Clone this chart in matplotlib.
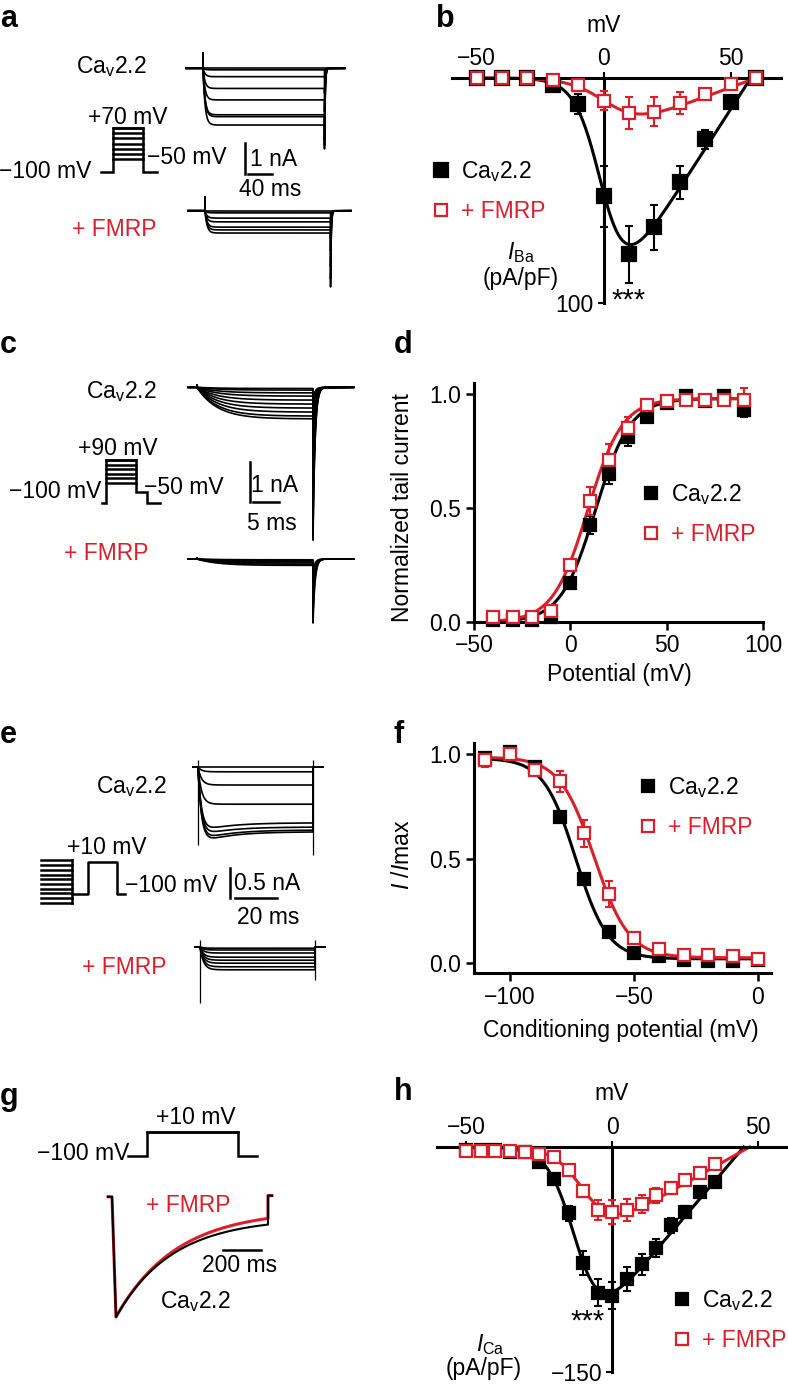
import numpy as np
import matplotlib.pyplot as plt

plt.rcParams['font.family'] = ['Liberation Sans', 'DejaVu Sans']
plt.rcParams['mathtext.fontset'] = 'custom'
plt.rcParams['mathtext.rm'] = 'Liberation Sans'
plt.rcParams['mathtext.it'] = 'Liberation Sans:italic'
plt.rcParams['mathtext.bf'] = 'Liberation Sans:bold'
plt.rcParams['font.size'] = 16.5
plt.rcParams['axes.linewidth'] = 2.0

RED = '#d9202a'
CAV = r'Ca$_\mathregular{v}$2.2'
FS = 16.5

# ---- b: Ba2+ current-voltage relation (pA/pF)
iv_b_mv = [-50, -40, -30, -20, -10, 0, 10, 20, 30, 40, 50, 60]
iv_b_cav = [0, 0, 0, -3.2, -11.7, -52.6, -78.4, -66.4, -46.4, -27.3, -10.8, 0]
iv_b_cav_err = [0.5, 0.5, 0.5, 1.0, 4.4, 13.5, 12.6, 10.0, 7.5, 4.4, 2.0, 0.5]
iv_b_fmrp = [0, 0, 0, -1.0, -3.0, -10.0, -15.5, -15.0, -11.0, -7.0, -2.5, 0]
iv_b_fmrp_err = [0.5, 0.5, 0.5, 1.0, 1.5, 4.4, 7.2, 6.5, 5.0, 2.0, 2.0, 0.5]
fit_b_cav = (1.75, 0.0, 5.0, 58.0)     # gmax, V50, k, Erev
fit_b_fmrp = (0.42, 3.0, 7.0, 60.0)

# ---- d: activation (normalized tail current)
act_mv = [-40, -30, -20, -10, 0, 10, 20, 30, 40, 50, 60, 70, 80, 90]
act_cav = [0.01, 0.01, 0.01, 0.02, 0.17, 0.425, 0.65, 0.81, 0.90, 0.96, 0.99, 0.97, 0.99, 0.93]
act_cav_err = [0.01, 0.01, 0.01, 0.02, 0.02, 0.04, 0.045, 0.04, 0.02, 0.01, 0.01, 0.02, 0.02, 0.03]
act_fmrp = [0.02, 0.02, 0.02, 0.05, 0.25, 0.53, 0.71, 0.85, 0.95, 0.97, 0.975, 0.975, 0.975, 0.975]
act_fmrp_err = [0.01, 0.01, 0.01, 0.02, 0.02, 0.06, 0.07, 0.05, 0.02, 0.01, 0.02, 0.01, 0.02, 0.05]
fit_d_cav = (0.98, 13.0, 9.0)          # max, V50, k
fit_d_fmrp = (0.98, 9.0, 9.0)

# ---- f: steady-state inactivation (I/Imax)
inact_mv = [-110, -100, -90, -80, -70, -60, -50, -40, -30, -20, -10, 0]
inact_cav = [0.98, 1.01, 0.94, 0.70, 0.40, 0.147, 0.05, 0.035, 0.013, 0.008, 0.008, 0.016]
inact_cav_err = [0.02, 0.03, 0.02, 0.02, 0.02, 0.02, 0.01, 0.01, 0.01, 0.01, 0.01, 0.01]
inact_fmrp = [0.97, 1.0, 0.925, 0.87, 0.62, 0.33, 0.12, 0.067, 0.04, 0.04, 0.035, 0.02]
inact_fmrp_err = [0.03, 0.03, 0.02, 0.05, 0.065, 0.06, 0.02, 0.01, 0.01, 0.01, 0.01, 0.01]
fit_f_cav = (0.96, -73.5, 6.5, 0.02)   # amplitude, V50, k, offset
fit_f_fmrp = (0.96, -66.0, 7.0, 0.025)

# ---- h: Ca2+ current-voltage relation (pA/pF)
iv_h_mv = [-50, -45, -40, -35, -30, -25, -20, -15, -10, -5, 0, 5, 10, 15, 20, 25, 30, 35]
iv_h_cav = [-2, -2, -2, -3, -3, -10, -21, -44, -77, -97, -99, -88, -78, -67, -52, -43, -30, -23]
iv_h_cav_err = [1, 1, 1, 1, 1, 2, 3, 5, 8, 9, 9, 8, 7, 6, 5, 4, 3, 2]
iv_h_fmrp = [-2.7, -2.7, -2.7, -2.7, -3.3, -4.4, -6.7, -15.6, -29, -42, -43, -42, -38, -32, -27, -22, -17, -11]
iv_h_fmrp_err = [1, 1, 1, 1, 1, 1, 2, 3, 4, 6.7, 8, 7.5, 6, 5, 4, 3, 2, 2]
fit_h_cav = (2.3, -12.0, 4.5, 45.0)
fit_h_fmrp = (1.1, -9.0, 5.0, 47.0)

# ---- example current traces: steady amplitudes (nA) and tail peaks (nA)
a_cav_lvl = [0, -0.05, -0.27, -0.65, -1.02, -1.5, -1.56, -1.83]
a_cav_tail = [0, -0.3, -0.8, -1.4, -1.9, -2.3, -2.5, -2.6]
a_fmrp_lvl = [0, -0.07, -0.24, -0.36, -0.53, -0.62, -0.72]
a_fmrp_tail = [0, -0.4, -0.9, -1.3, -1.8, -2.2, -2.46]
c_cav_lvl = [-0.03, -0.07, -0.14, -0.22, -0.32, -0.42, -0.52, -0.62, -0.72, -0.79]
c_cav_tail = [-0.3, -0.6, -1.0, -1.5, -2.0, -2.5, -2.9, -3.3, -3.6, -3.82]
c_fmrp_lvl = [-0.02, -0.04, -0.07, -0.10, -0.13, -0.16]
c_fmrp_tail = [-0.3, -0.6, -0.9, -1.2, -1.4, -1.6]
e_cav_lvl = [0, -0.08, -0.30, -0.62, -0.93, -1.0, -1.05, -1.08]
e_cav_sag = [0, 0, 0, 0, -0.15, -0.15, -0.18, -0.2]
e_fmrp_lvl = [-0.02, -0.05, -0.10, -0.17, -0.22, -0.27, -0.33, -0.38]
e_cav_cap = (0.12, -1.3, -1.47)        # transient: top, on, off (nA)
e_fmrp_cap = (0.12, -0.93, -0.55)
g_cav = (0.168, 0.832, 295.0)           # plateau, decaying fraction, tau (ms)
g_fmrp = (0.10, 0.90, 316.0)

W, H = 788, 1386
fig = plt.figure(figsize=(W / 100, H / 100), dpi=100)


def px_axes(x0, y0, x1, y1):
    return fig.add_axes([x0 / W, 1 - y1 / H, (x1 - x0) / W, (y1 - y0) / H])


def txt(x, y, s, **kw):
    kw.setdefault('ha', 'center')
    kw.setdefault('va', 'center')
    kw.setdefault('fontsize', FS)
    fig.text(x / W, 1 - y / H, s, **kw)


def letter(x, y, s):
    fig.text(x / W, 1 - y / H, s, fontsize=22, fontweight='bold', va='baseline')


def scaled_axes(box, x_ref, v_ref, px_x, y_ref, w_ref, px_y):
    # box in pixels; (x_ref px <-> v_ref), (y_ref px <-> w_ref), scales in px per unit
    x0, y0, x1, y1 = box
    ax = px_axes(*box)
    ax.set_xlim(v_ref + (x0 - x_ref) / px_x, v_ref + (x1 - x_ref) / px_x)
    ax.set_ylim(w_ref + (y_ref - y1) / px_y, w_ref + (y_ref - y0) / px_y)
    return ax


def ghk(v, g, v50, k, erev):
    return g * (v - erev) / (1 + np.exp(-(v - v50) / k))


def step_trace(lvl, tail, t_step, t_pre, t_post, tau, tau_tail, blip, sag=0.0):
    t_on = np.linspace(0, t_step, 400)
    i_on = lvl * (1 - np.exp(-t_on / tau)) + sag * np.exp(-t_on / (8 * tau)) * (1 - np.exp(-t_on / tau))
    t_off = t_step + np.linspace(0, 6 * tau_tail, 60)
    i_off = tail * np.exp(-(t_off - t_step) / tau_tail)
    t = np.concatenate([[t_pre, 0, 0], t_on, [t_step], t_off, [t_post]])
    i = np.concatenate([[0, 0, blip], i_on, [tail], i_off, [0]])
    return t, i


def draw_traces(ax, lvls, tails, t_step, t_pre, t_post, tau, tau_tail, blip, sags=None):
    for n, (lv, tl) in enumerate(zip(lvls, tails)):
        sg = 0.0 if sags is None else sags[n]
        t, i = step_trace(lv, tl, t_step, t_pre, t_post, tau, tau_tail, blip, sg)
        ax.plot(t, i, color='black', lw=1.2)
    ax.axis('off')


def scale_bar(ax, x, y, dx, dy):
    ax.plot([x, x], [y, y + dy], color='black', lw=1.8, clip_on=False)
    ax.plot([x + 0.1 * dx, x + dx], [y + dy, y + dy], color='black', lw=1.8, clip_on=False)


def protocol(ax, hold, levels, pre, step, post, tail_v=None, tail_t=0):
    top = max(levels)
    for lv in levels:
        ax.plot([0, step], [lv, lv], color='black', lw=1.8)
    ts = [-pre, 0, 0, step, step]
    vs = [hold, hold, top, top, hold if tail_v is None else tail_v]
    if tail_v is not None:
        ts += [step + tail_t, step + tail_t]
        vs += [tail_v, hold]
    ts.append(ts[-1] + post)
    vs.append(hold)
    ax.plot(ts, vs, color='black', lw=1.8, solid_joinstyle='miter')
    ax.axis('off')


def style_iv(ax, xticks, ytick, ylab):
    for s in ['bottom', 'right']:
        ax.spines[s].set_visible(False)
    ax.spines['left'].set_position(('data', 0))
    ax.spines['top'].set_linewidth(2.2)
    ax.spines['left'].set_linewidth(2.2)
    ax.xaxis.set_ticks_position('top')
    ax.set_xticks(xticks)
    ax.set_yticks([ytick])
    ax.set_yticklabels([ylab])
    ax.tick_params(axis='x', length=4, width=1.5, pad=2, labelsize=FS)
    ax.tick_params(axis='y', length=4, width=1.5, pad=3, labelsize=FS)


def style_box(ax, xticks, yticks):
    for s in ['top', 'right']:
        ax.spines[s].set_visible(False)
    ax.spines['left'].set_linewidth(2.2)
    ax.spines['bottom'].set_linewidth(2.2)
    ax.set_xticks(xticks)
    ax.set_yticks(yticks)
    ax.set_yticklabels(['%.1f' % v for v in yticks])
    ax.tick_params(length=6, width=1.8, pad=3, labelsize=FS)


def points(ax, x, y, err, ms, filled, color):
    ax.errorbar(x, y, yerr=err, fmt='none', ecolor=color, elinewidth=1.5,
                capsize=3, capthick=1.5, clip_on=False, zorder=3)
    ax.plot(x, y, 's', ms=ms, mfc=color if filled else 'white', mec=color,
            mew=1.6, ls='none', clip_on=False, zorder=4,
            label=CAV if filled else '+ FMRP')


def legend(ax, x, y, spacing):
    lg = ax.legend(loc='upper left', bbox_to_anchor=(x / W, 1 - y / H),
                   bbox_transform=fig.transFigure, frameon=False, borderpad=0,
                   handlelength=0.8, handletextpad=0.45, labelspacing=spacing,
                   fontsize=FS, borderaxespad=0)
    lg.get_texts()[1].set_color(RED)


# ================= panel a
letter(0, 27, 'a')
ax = scaled_axes((180, 45, 350, 160), 203, 0, 0.675, 68.3, 0, 31)
draw_traces(ax, a_cav_lvl, a_cav_tail, 180, -25, 210, 3.0, 1.0, 0.5)
scale_bar(ax, 62, -2.41, 40, -1.0)
ax = scaled_axes((180, 190, 355, 295), 205, 0, 0.675, 210.7, 0, 31)
draw_traces(ax, a_fmrp_lvl, a_fmrp_tail, 186, -25, 216, 3.0, 1.0, 0.44)
ax = scaled_axes((95, 115, 165, 180), 113, 0, 0.6, 172, -100, 0.259)
protocol(ax, -100, [-50, -30, -10, 10, 30, 50, 70], 20, 50, 23)
txt(111, 67, CAV)
txt(128, 117, '+70 mV')
txt(147, 157, '\u221250 mV', ha='left')
txt(91, 171, '\u2212100 mV', ha='right')
txt(250, 160, '1 nA', ha='left')
txt(270, 190, '40 ms')
txt(114, 229, '+ FMRP', color=RED)

# ================= panel b
letter(436, 27, 'b')
ax = scaled_axes((452, 78, 781, 303), 603.5, 0, 2.54, 78, 0, 2.25)
ax.set_ylim(-100, 0)
style_iv(ax, [-50, 0, 50], -100, '100')
vb = np.linspace(-50, fit_b_cav[3], 300)
ax.plot(vb, ghk(vb, *fit_b_cav), color='black', lw=2.2, zorder=2, clip_on=False)
vb = np.linspace(-50, fit_b_fmrp[3], 300)
ax.plot(vb, ghk(vb, *fit_b_fmrp), color=RED, lw=2.2, zorder=2, clip_on=False)
points(ax, iv_b_mv, iv_b_cav, iv_b_cav_err, 9.5, True, 'black')
points(ax, iv_b_mv, iv_b_fmrp, iv_b_fmrp_err, 9, False, RED)
legend(ax, 432, 159, 0.7)
txt(604, 25, 'mV')
txt(521, 253, r'$I_\mathregular{Ba}$')
txt(521, 278, '(pA/pF)')
txt(629, 301, '***', fontsize=21)

# ================= panel c
letter(0, 353, 'c')
ax = scaled_axes((180, 370, 360, 545), 197, 0, 5.8, 387.3, 0, 40)
draw_traces(ax, c_cav_lvl, c_cav_tail, 20, -1.5, 27, 3.5, 0.35, 0.05)
scale_bar(ax, 9.1, -1.87, 5, -1.0)
ax = scaled_axes((180, 545, 360, 630), 197, 0, 5.8, 559, 0, 40)
draw_traces(ax, c_fmrp_lvl, c_fmrp_tail, 20, -1.5, 27, 3.5, 0.35, 0.03)
ax = scaled_axes((95, 450, 165, 510), 106, 0, 1.5, 503, -100, 0.226)
protocol(ax, -100, [-10, 10, 30, 50, 70, 90], 2.7, 20, 8.7, tail_v=-50, tail_t=7.3)
txt(121, 392, CAV)
txt(118, 448, '+90 mV')
txt(144, 487, '\u221250 mV', ha='left')
txt(101, 492, '\u2212100 mV', ha='right')
txt(251, 486, '1 nA', ha='left')
txt(272, 523, '5 ms')
txt(106, 553, '+ FMRP', color=RED)

# ================= panel d
letter(394, 353, 'd')
ax = scaled_axes((474, 383, 763, 622), 474, -50, 1.927, 622, 0, 228)
style_box(ax, [-50, 0, 50, 100], [0.0, 0.5, 1.0])
vd = np.linspace(-40, 90, 300)
ax.plot(vd, fit_d_cav[0] / (1 + np.exp(-(vd - fit_d_cav[1]) / fit_d_cav[2])), color='black', lw=2.2, zorder=2)
ax.plot(vd, fit_d_fmrp[0] / (1 + np.exp(-(vd - fit_d_fmrp[1]) / fit_d_fmrp[2])), color=RED, lw=2.2, zorder=2)
points(ax, act_mv, act_cav, act_cav_err, 8, True, 'black')
points(ax, act_mv, act_fmrp, act_fmrp_err, 8, False, RED)
legend(ax, 642, 482, 0.7)
txt(403, 508, 'Normalized tail current', rotation=90)
txt(619, 675, 'Potential (mV)')

# ================= panel e
letter(0, 743, 'e')
ax = scaled_axes((188, 750, 330, 860), 198, 0, 2.35, 767, 0, 60)
draw_traces(ax, e_cav_lvl, [0] * len(e_cav_lvl), 49, -2.1, 53.2, 1.5, 0.3, 0.0, e_cav_sag)
ax.vlines([0], e_cav_cap[1], e_cav_cap[0], color='black', lw=0.9)
ax.vlines([49], e_cav_cap[2], e_cav_cap[0], color='black', lw=0.9)
scale_bar(ax, 13.6, -1.68, 20, -0.5)
ax = scaled_axes((188, 930, 330, 1010), 200, 0, 2.35, 947, 0, 60)
draw_traces(ax, e_fmrp_lvl, [0] * len(e_fmrp_lvl), 49, -2.1, 53.2, 1.5, 0.3, 0.0)
ax.vlines([0], e_fmrp_cap[1], e_fmrp_cap[0], color='black', lw=0.9)
ax.vlines([49], e_fmrp_cap[2], e_fmrp_cap[0], color='black', lw=0.9)
ax = scaled_axes((35, 850, 135, 910), 88, 0, 0.58, 894, -100, 0.291)
cond = [-131, -115, -98, -82, -65, -49, -33, -16, 0, 17]
for lv in cond:
    ax.plot([-80.6, -27.6], [lv, lv], color='black', lw=1.8)
ax.plot([-27.6, -27.6, 0, 0, 50, 50, 64], [max(cond), -100, -100, 10, 10, -100, -100],
        color='black', lw=1.8)
ax.plot([-27.6, -27.6], [min(cond), -100], color='black', lw=1.8)
ax.axis('off')
txt(131, 787, CAV)
txt(107, 848, '+10 mV')
txt(125, 885, '\u2212100 mV', ha='left')
txt(234, 884, '0.5 nA', ha='left')
txt(268, 917, '20 ms')
txt(124, 968, '+ FMRP', color=RED)

# ================= panel f
letter(394, 743, 'f')
ax = scaled_axes((474, 743, 771, 973), 758, 0, 2.48, 963, 0, 209)
style_box(ax, [-100, -50, 0], [0.0, 0.5, 1.0])
vf = np.linspace(-110, 0, 300)
for fit, col in [(fit_f_cav, 'black'), (fit_f_fmrp, RED)]:
    ax.plot(vf, fit[0] / (1 + np.exp((vf - fit[1]) / fit[2])) + fit[3], color=col, lw=2.2, zorder=2)
points(ax, inact_mv, inact_cav, inact_cav_err, 8, True, 'black')
points(ax, inact_mv, inact_fmrp, inact_fmrp_err, 8, False, RED)
legend(ax, 639, 775, 0.7)
txt(403, 855, r'$I$ /$I$max', rotation=90)
txt(621, 1031, 'Conditioning potential (mV)')

# ================= panel g
letter(0, 1105, 'g')
ax = scaled_axes((100, 1185, 280, 1325), 112, 0, 0.19, 1198, 0, 119)
for (c0, a0, tau), col, lw in [(g_fmrp, RED, 2.2), (g_cav, 'black', 1.5)]:
    tg = np.linspace(21, 821, 500)
    ig = -(c0 + a0 * np.exp(-(tg - 21) / tau))
    ax.plot(np.concatenate([[-21, 0], tg, [821, 842]]),
            np.concatenate([[0.01, 0.01], ig, [0.02, 0.02]]), color=col, lw=lw)
ax.plot([584, 784], [-0.437, -0.437], color='black', lw=1.8, clip_on=False)
ax.axis('off')
ax = scaled_axes((120, 1120, 265, 1165), 147, 0, 0.114, 1156, -100, 0.218)
protocol(ax, -100, [10], 167, 800, 167)
txt(196, 1118, '+10 mV')
txt(129, 1154, '\u2212100 mV', ha='right')
txt(240, 1265, '200 ms')
txt(188, 1205, '+ FMRP', color=RED)
txt(195, 1302, CAV)

# ================= panel h
letter(394, 1100, 'h')
ax = scaled_axes((437, 1147, 788, 1372), 612.3, 0, 2.92, 1147, 0, 1.5)
ax.set_ylim(-150, 0)
style_iv(ax, [-50, 0, 50], -150, '\u2212150')
for fit, col in [(fit_h_cav, 'black'), (fit_h_fmrp, RED)]:
    vh = np.linspace(-50, fit[3], 300)
    ax.plot(vh, ghk(vh, *fit), color=col, lw=2.2, zorder=2, clip_on=False)
points(ax, iv_h_mv, iv_h_cav, iv_h_cav_err, 8.5, True, 'black')
points(ax, iv_h_mv, iv_h_fmrp, iv_h_fmrp_err, 8, False, RED)
legend(ax, 673, 1288, 0.7)
txt(612, 1093, 'mV')
txt(490, 1345, r'$I_\mathregular{Ca}$')
txt(484, 1369, '(pA/pF)')
txt(588, 1322, '***', fontsize=21)

fig.savefig('out.png', dpi=100)
